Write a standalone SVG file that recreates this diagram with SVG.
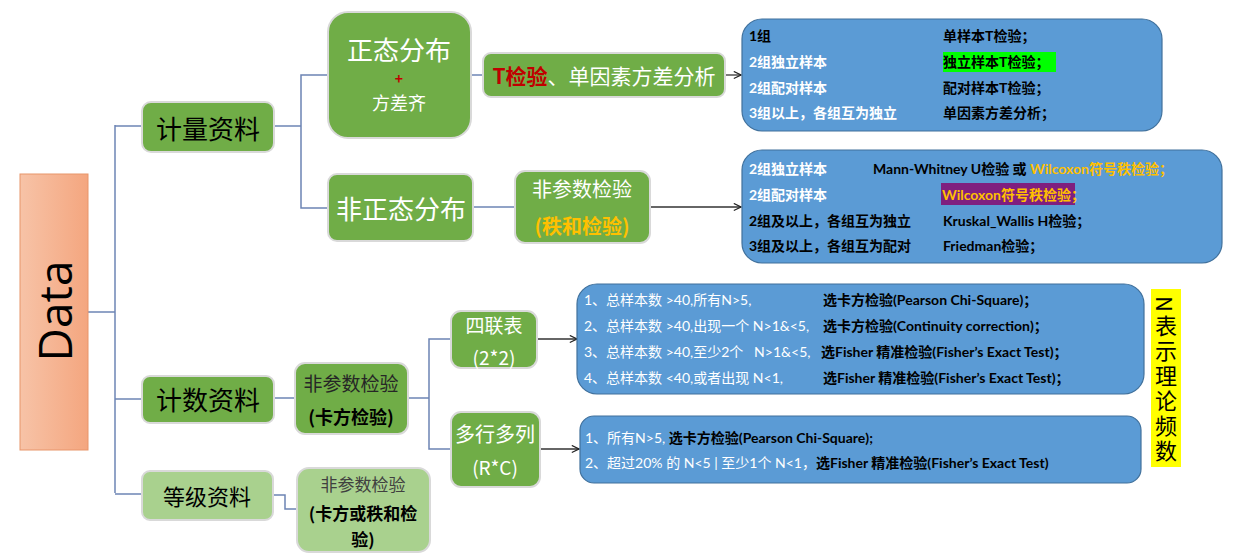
<svg xmlns="http://www.w3.org/2000/svg" width="1240" height="558" viewBox="0 0 1240 558">
<defs>
<linearGradient id="gData" x1="0" y1="0" x2="1" y2="0">
<stop offset="0" stop-color="#F7C3A7"/>
<stop offset="1" stop-color="#F4A67F"/>
</linearGradient>
<marker id="arr" viewBox="0 0 10 10" refX="9" refY="5" markerWidth="9" markerHeight="9" markerUnits="userSpaceOnUse" orient="auto">
<path d="M1,1 L9,5 L1,9" fill="none" stroke="#222" stroke-width="1.3"/>
</marker>
<style>
.cn{font-family:"Noto Sans CJK SC","Noto Sans",sans-serif;}
.bx{font-family:Lato,"Noto Sans CJK SC",sans-serif;font-size:14px;}
.b{font-weight:bold;}
.g{fill:#70AD47;stroke:#D9D9D9;stroke-width:2;}
.lg{fill:#A9D18E;stroke:#D9D9D9;stroke-width:2;}
.blue{fill:#5B9BD5;stroke:#41719C;stroke-width:1.2;}
.ln{fill:none;stroke:#6C84B4;stroke-width:1.5;}
.ar{fill:none;stroke:#333;stroke-width:1.3;marker-end:url(#arr);}
.w{fill:#FFFFFF;}
.k{fill:#000000;}
.o{fill:#FFC000;}
.nt{font-family:"Noto Sans CJK SC",sans-serif;font-size:22px;fill:#000;writing-mode:vertical-rl;letter-spacing:3px;}
</style>
</defs>
<rect width="1240" height="558" fill="#FFFFFF"/>

<g id="connectors">
<polyline class="ln" points="88,312 115,312"/>
<polyline class="ln" points="115,125 115,493"/>
<polyline class="ln" points="115,126 142,126"/>
<polyline class="ln" points="115,399 142,399"/>
<polyline class="ln" points="115,494 142,494"/>
<polyline class="ln" points="274,126 301,126"/>
<polyline class="ln" points="328,75 301,75 301,208 328,208"/>
<polyline class="ln" points="471,75 483,75"/>
<polyline class="ln" points="473,207 515,207"/>
<line class="ar" x1="725" y1="75" x2="741" y2="75"/>
<line class="ar" x1="650" y1="207" x2="741" y2="207"/>
<polyline class="ln" points="274,398 295,398"/>
<polyline class="ln" points="408,398 429,398"/>
<polyline class="ln" points="451,339 429,339 429,449 451,449"/>
<line class="ar" x1="537" y1="339" x2="577" y2="339"/>
<line class="ar" x1="540" y1="449" x2="579" y2="449"/>
<polyline class="ln" points="273,495 285,495 285,509 297,509"/>
</g>

<g id="data">
<rect x="20" y="174" width="68" height="276" fill="url(#gData)" stroke="#E8956A" stroke-width="1"/>
<text transform="translate(54,311) rotate(-90)" text-anchor="middle" dominant-baseline="central" font-family="'Open Sans',sans-serif" font-size="46" fill="#000">Data</text>
</g>

<g id="jiliang">
<rect class="g" x="142" y="102" width="132" height="50" rx="9"/>
<text class="cn k" x="208" y="127" text-anchor="middle" dominant-baseline="central" font-size="26">计量资料</text>
</g>

<g id="zhengtai">
<rect class="g" x="328" y="12" width="143" height="126" rx="20"/>
<text class="cn w" x="399" y="48" text-anchor="middle" dominant-baseline="central" font-size="26">正态分布</text>
<text class="cn b" x="399" y="78" text-anchor="middle" dominant-baseline="central" font-size="14" fill="#C00000">+</text>
<text class="cn w" x="399" y="102" text-anchor="middle" dominant-baseline="central" font-size="18">方差齐</text>
</g>

<g id="ttest">
<rect class="g" x="483" y="53" width="242" height="44" rx="8"/>
<text class="cn" x="604" y="75" text-anchor="middle" dominant-baseline="central" font-size="21"><tspan class="b" fill="#C00000">T检验</tspan><tspan class="w">、单因素方差分析</tspan></text>
</g>

<g id="box1">
<rect class="blue" x="742" y="19" width="420" height="112" rx="20"/>
<rect x="943" y="52" width="113" height="20" fill="#00FF00"/>
<text class="bx b k" x="749" y="35" dominant-baseline="central">1组</text>
<text class="bx b w" x="749" y="61" dominant-baseline="central">2组独立样本</text>
<text class="bx b w" x="749" y="87" dominant-baseline="central">2组配对样本</text>
<text class="bx b w" x="749" y="112" dominant-baseline="central">3组以上，各组互为独立</text>
<text class="bx b k" x="943" y="35" dominant-baseline="central">单样本T检验；</text>
<text class="bx b k" x="943" y="61" dominant-baseline="central">独立样本T检验；</text>
<text class="bx b k" x="943" y="87" dominant-baseline="central">配对样本T检验；</text>
<text class="bx b k" x="943" y="112" dominant-baseline="central">单因素方差分析；</text>
</g>

<g id="feizhengtai">
<rect class="g" x="328" y="174" width="145" height="67" rx="9"/>
<text class="cn w" x="401" y="207" text-anchor="middle" dominant-baseline="central" font-size="26">非正态分布</text>
</g>

<g id="feican1">
<rect class="g" x="515" y="171" width="135" height="72" rx="10"/>
<text class="cn w" x="582" y="188" text-anchor="middle" dominant-baseline="central" font-size="20">非参数检验</text>
<text class="cn b o" x="582" y="225" text-anchor="middle" dominant-baseline="central" font-size="20">(秩和检验)</text>
</g>

<g id="box2">
<rect class="blue" x="742" y="150" width="480" height="113" rx="20"/>
<rect x="941" y="183" width="134" height="22" fill="#7F1F7F"/>
<text class="bx b w" x="749" y="168" dominant-baseline="central">2组独立样本</text>
<text class="bx b w" x="749" y="194" dominant-baseline="central">2组配对样本</text>
<text class="bx b k" x="749" y="220" dominant-baseline="central">2组及以上，各组互为独立</text>
<text class="bx b k" x="749" y="245" dominant-baseline="central">3组及以上，各组互为配对</text>
<text class="bx b" x="873" y="168" dominant-baseline="central"><tspan class="k">Mann-Whitney U检验 或 </tspan><tspan class="o">Wilcoxon符号秩检验；</tspan></text>
<text class="bx b o" x="942" y="194" dominant-baseline="central">Wilcoxon符号秩检验；</text>
<text class="bx b k" x="943" y="220" dominant-baseline="central">Kruskal_Wallis H检验；</text>
<text class="bx b k" x="943" y="245" dominant-baseline="central">Friedman检验；</text>
</g>

<g id="jishu">
<rect class="g" x="142" y="376" width="132" height="47" rx="8"/>
<text class="cn k" x="208" y="398" text-anchor="middle" dominant-baseline="central" font-size="26">计数资料</text>
</g>

<g id="feican2">
<rect class="g" x="295" y="363" width="113" height="71" rx="10"/>
<text class="cn" x="351" y="382" text-anchor="middle" dominant-baseline="central" font-size="19" fill="#262626">非参数检验</text>
<text class="cn b k" x="351" y="416" text-anchor="middle" dominant-baseline="central" font-size="18">(卡方检验)</text>
</g>

<g id="silian">
<rect class="g" x="451" y="311" width="86" height="57" rx="10"/>
<text class="cn w" x="494" y="324" text-anchor="middle" dominant-baseline="central" font-size="19">四联表</text>
<text class="cn w" x="494" y="356" text-anchor="middle" dominant-baseline="central" font-size="19">(2*2)</text>
</g>

<g id="duohang">
<rect class="g" x="451" y="412" width="89" height="75" rx="10"/>
<text class="cn w" x="495" y="433" text-anchor="middle" dominant-baseline="central" font-size="20">多行多列</text>
<text class="cn w" x="495" y="466" text-anchor="middle" dominant-baseline="central" font-size="19">(R*C)</text>
</g>

<g id="box3">
<rect class="blue" x="577" y="284" width="567" height="110" rx="20"/>
<text class="bx w" x="584" y="299" dominant-baseline="central">1、总样本数 &gt;40,所有N&gt;5,</text>
<text class="bx w" x="584" y="325" dominant-baseline="central">2、总样本数 &gt;40,出现一个 N&gt;1&amp;&lt;5,</text>
<text class="bx w" x="584" y="351" dominant-baseline="central" xml:space="preserve">3、总样本数 &gt;40,至少2个   N&gt;1&amp;&lt;5,</text>
<text class="bx w" x="584" y="377" dominant-baseline="central">4、总样本数 &lt;40,或者出现 N&lt;1,</text>
<text class="bx b k" x="823" y="299" dominant-baseline="central">选卡方检验(Pearson Chi-Square)；</text>
<text class="bx b k" x="823" y="325" dominant-baseline="central">选卡方检验(Continuity correction)；</text>
<text class="bx b k" x="821" y="351" dominant-baseline="central">选Fisher 精准检验(Fisher’s Exact Test)；</text>
<text class="bx b k" x="823" y="377" dominant-baseline="central">选Fisher 精准检验(Fisher’s Exact Test)；</text>
</g>

<g id="box4">
<rect class="blue" x="580" y="416" width="561" height="67" rx="14"/>
<text class="bx" x="585" y="437" dominant-baseline="central"><tspan class="w">1、所有N&gt;5, </tspan><tspan class="b k">选卡方检验(Pearson Chi-Square);</tspan></text>
<text class="bx" x="585" y="462" dominant-baseline="central"><tspan class="w">2、超过20% 的 N&lt;5 | 至少1个 N&lt;1，</tspan><tspan class="b k">选Fisher 精准检验(Fisher’s Exact Test)</tspan></text>
</g>

<g id="note">
<rect x="1151" y="289" width="30" height="178" fill="#FFFF00"/>
<text class="nt" x="1166" y="296">N表示理论频数</text>
</g>

<g id="dengji">
<rect class="lg" x="142" y="471" width="131" height="49" rx="8"/>
<text class="cn k" x="207" y="495" text-anchor="middle" dominant-baseline="central" font-size="22">等级资料</text>
</g>

<g id="feican3">
<rect class="lg" x="297" y="468" width="133" height="84" rx="12"/>
<text class="cn" x="363" y="483" text-anchor="middle" dominant-baseline="central" font-size="17" fill="#404040">非参数检验</text>
<text class="cn b k" x="363" y="512" text-anchor="middle" dominant-baseline="central" font-size="17">(卡方或秩和检</text>
<text class="cn b k" x="363" y="538" text-anchor="middle" dominant-baseline="central" font-size="17">验)</text>
</g>
</svg>
